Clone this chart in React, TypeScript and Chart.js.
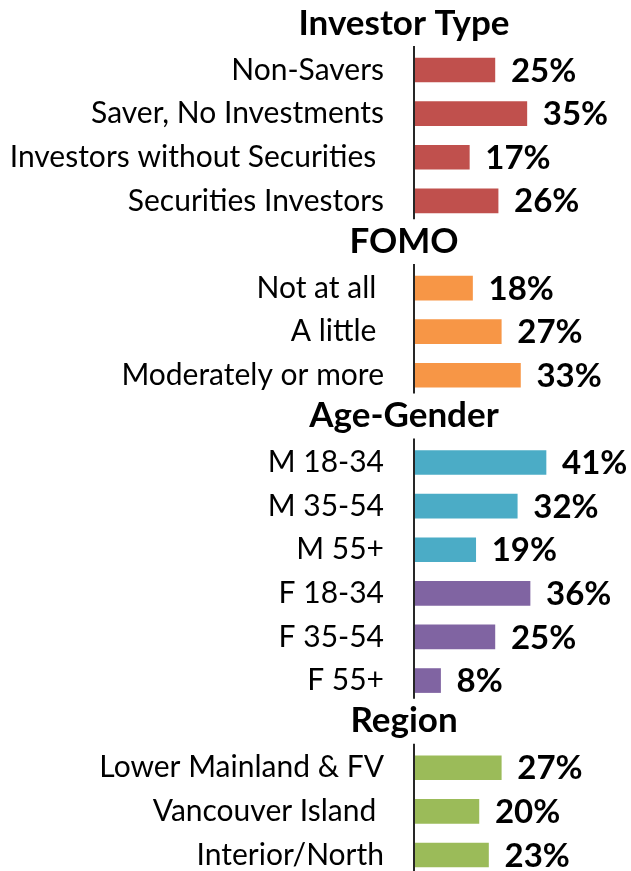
import React, { useEffect, useRef } from "react";
import { Chart, registerables } from "chart.js";

Chart.register(...registerables);

const categories: string[] = [
  "", "Non-Savers", "Saver, No Investments", "Investors without Securities ", "Securities Investors",
  "", "Not at all ", "A little ", "Moderately or more",
  "", "M 18-34", "M 35-54", "M 55+", "F 18-34", "F 35-54", "F 55+",
  "", "Lower Mainland & FV", "Vancouver Island ", "Interior/North",
];

const headers: string[] = ["Investor Type", "", "", "", "", "FOMO", "", "", "", "Age-Gender", "", "", "", "", "", "", "Region", "", "", ""];

const values: (number | null)[] = [
  null, 25, 35, 17, 26,
  null, 18, 27, 33,
  null, 41, 32, 19, 36, 25, 8,
  null, 27, 20, 23,
];

const groupRanges: [number, number][] = [[1, 4], [6, 8], [10, 15], [17, 19]];

const RED = "#C0504D";
const ORANGE = "#F79646";
const TEAL = "#4BACC6";
const PURPLE = "#8064A2";
const GREEN = "#9BBB59";

const barColors: string[] = [
  RED, RED, RED, RED, RED,
  ORANGE, ORANGE, ORANGE, ORANGE,
  TEAL, TEAL, TEAL, TEAL, PURPLE, PURPLE, PURPLE,
  GREEN, GREEN, GREEN, GREEN,
];

const FONT = "Lato, 'Noto Sans', sans-serif";

const overlayPlugin = {
  id: "overlay",
  afterDatasetsDraw(chart: any) {
    const ctx = chart.ctx;
    const yScale = chart.scales.y;
    const meta = chart.getDatasetMeta(0);
    ctx.save();
    // axis segments
    ctx.strokeStyle = "#262626";
    ctx.lineWidth = 2;
    const x0 = chart.chartArea.left - 1;
    groupRanges.forEach(([a, b], gi) => {
      const top = yScale.getPixelForValue(a - 0.55);
      let bottom = yScale.getPixelForValue(b + 0.42);
      if (gi === groupRanges.length - 1) bottom = chart.height;
      ctx.beginPath();
      ctx.moveTo(x0, top);
      ctx.lineTo(x0, bottom);
      ctx.stroke();
    });
    // headers
    ctx.fillStyle = "#000";
    ctx.textAlign = "center";
    ctx.textBaseline = "middle";
    ctx.font = `bold 35px ${FONT}`;
    headers.forEach((h, i) => {
      if (!h) return;
      ctx.fillText(h, 404, yScale.getPixelForValue(i) - 3);
    });
    // value labels
    ctx.textAlign = "left";
    ctx.font = `bold 33px ${FONT}`;
    meta.data.forEach((bar: any, i: number) => {
      const v = values[i];
      if (v === null || v === undefined) return;
      ctx.fillText(`${v}%`, bar.x + 16, bar.y + 1);
    });
    ctx.restore();
  },
};

export default function App() {
  const canvasRef = useRef<HTMLCanvasElement>(null);

  useEffect(() => {
    const canvas = canvasRef.current;
    if (!canvas) return;
    const chart = new Chart(canvas, {
      type: "bar",
      data: {
        labels: categories,
        datasets: [
          {
            data: values as any,
            backgroundColor: barColors,
            borderWidth: 0,
            barThickness: 24,
            clip: false as any,
          },
        ],
      },
      options: {
        indexAxis: "y",
        responsive: false,
        animation: false,
        layout: { padding: { top: 26.4, bottom: 16, left: 0, right: 0 } },
        plugins: { legend: { display: false }, tooltip: { enabled: false } },
        scales: {
          x: { display: false, min: 0, max: 67.6 },
          y: {
            type: "category",
            offset: false,
            grid: { display: false, drawTicks: false },
            border: { display: false },
            ticks: {
              autoSkip: false,
              color: "#000",
              padding: 31,
              font: { family: FONT, size: 30 },
            },
            afterFit: (scale: any) => {
              scale.width = 415;
              scale.paddingTop = 0;
              scale.paddingBottom = 0;
            },
          },
        },
      },
      plugins: [overlayPlugin],
    });
    return () => chart.destroy();
  }, []);

  return (
    <div style={{ position: "absolute", left: 0, top: 0, width: 631, height: 871, background: "#fff", overflow: "hidden" }}>
      <canvas ref={canvasRef} width={631} height={871} />
    </div>
  );
}
